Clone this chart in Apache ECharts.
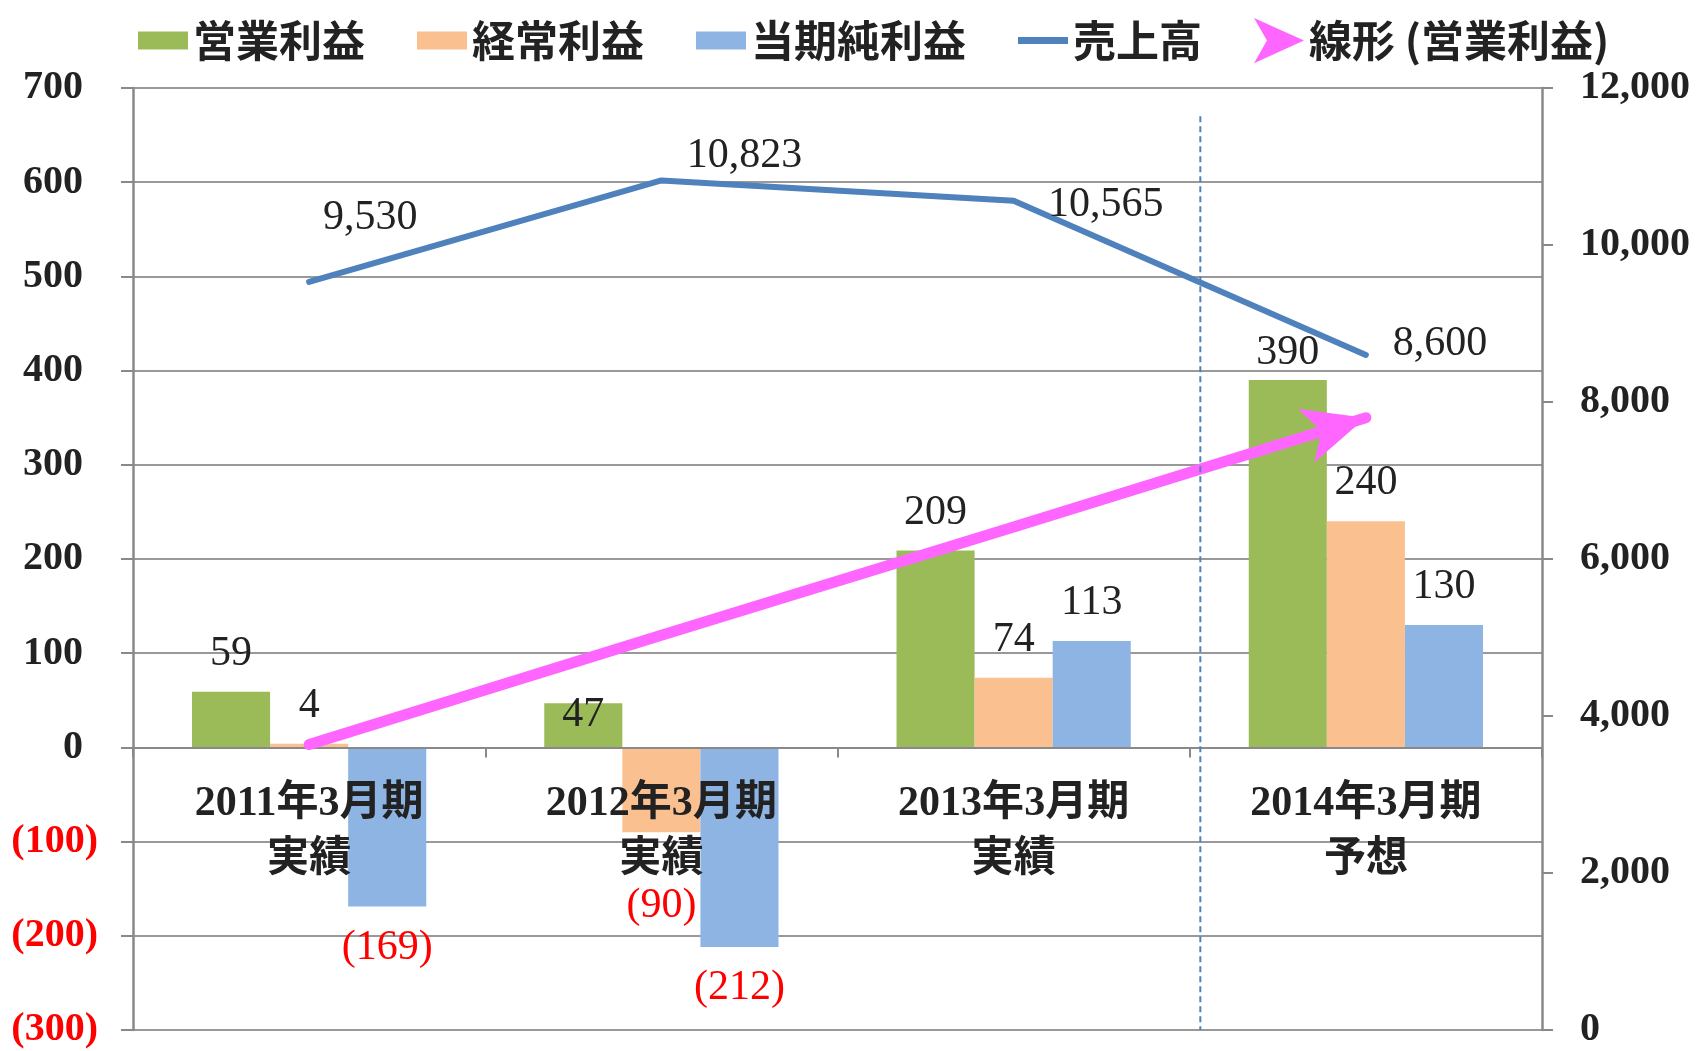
<!DOCTYPE html>
<html>
<head>
<meta charset="utf-8">
<title>業績推移</title>
<script src="https://cdn.jsdelivr.net/npm/echarts@6/dist/echarts.min.js"></script>
<style>
html, body { margin: 0; padding: 0; background: #fff; }
#resultChartContainer { width: 1700px; height: 1051px; }
</style>
</head>
<body>
<div id="resultChartContainer"></div>
<script>
// 表示データ
var categories = ['2011年3月期\n実績', '2012年3月期\n実績', '2013年3月期\n実績', '2014年3月期\n予想'];
var operatingProfit = [59, 47, 209, 390];      // 営業利益
var ordinaryProfit = [4, -90, 74, 240];        // 経常利益
var netProfit = [-169, -212, 113, 130];        // 当期純利益
var sales = [9530, 10823, 10565, 8600];        // 売上高
var trendValues = [3, 119, 234, 350];          // 線形 (営業利益)
var leftAxisRange = [-300, 700, 100];          // min, max, interval
var rightAxisRange = [0, 12000, 2000];
var dividerX = 3.03;                           // 実績/予想 の区切り
var dividerY = [670, -300];

var SERIF = '"Liberation Serif", "Noto Sans CJK JP", serif';
var GRAY = '#898989';
var GRID = { left: 133, right: 158, top: 88, bottom: 21 };

/**
 * 業績推移グラフ
 */
var p_1_1 = {
	init: function () {
		p_1_1.showChart();
	},
	/**
	 * 棒グラフ用のデータ (マイナスは下にラベル)
	 */
	barData: function (values, distances) {
		return values.map(function (v, i) {
			var item = { value: v, label: { position: v < 0 ? 'bottom' : 'top' } };
			if (distances && distances[i] != null) {
				item.label.distance = distances[i];
			}
			return item;
		});
	},
	barLabel: function () {
		return {
			show: true,
			distance: 17,
			formatter: function (p) {
				var v = p.value;
				return v < 0 ? '{n|(' + (-v) + ')}' : '{p|' + v + '}';
			},
			rich: {
				p: { fontFamily: SERIF, fontSize: 42, color: '#222' },
				n: { fontFamily: SERIF, fontSize: 42, color: '#ff0000' }
			}
		};
	},
	showChart: function () {
		var myChart = echarts.init(document.getElementById('resultChartContainer'));
		var salesLabelOffset = [[61, -64], [83, -24], [92, 4], [74, -11]];
		var arrowHead = 'path://M0,0 L62,28 L0,56 L16,28 Z';

		// カテゴリ軸を 0 の位置へ移動 (v6 では onZero でラベルが下端に残るため)
		var gridHeight = 1051 - GRID.top - GRID.bottom;
		var zeroOffset = -gridHeight * (0 - leftAxisRange[0]) / (leftAxisRange[1] - leftAxisRange[0]);

		var trendData = trendValues.map(function (v, i) {
			if (i === trendValues.length - 1) {
				return {
					value: v,
					symbol: arrowHead,
					symbolSize: [62, 56],
					symbolRotate: 17,
					symbolOffset: [-30, 9],
					symbolKeepAspect: false
				};
			}
			return { value: v };
		});

		var option = {
			animation: false,
			grid: { left: GRID.left, right: GRID.right, top: GRID.top, bottom: GRID.bottom, containLabel: false, outerBoundsMode: 'none' },
			legend: {
				left: 133,
				top: 13,
				itemWidth: 50,
				itemHeight: 56,
				itemGap: 52,
				selectedMode: false,
				textStyle: { fontFamily: '"Noto Sans CJK JP"', fontSize: 43, fontWeight: 'bold', color: '#222' },
				data: [
					{ name: '営業利益', icon: 'path://M0,0h50v18h-50z' },
					{ name: '経常利益', icon: 'path://M0,0h50v18h-50z' },
					{ name: '当期純利益', icon: 'path://M0,0h50v18h-50z' },
					{ name: '売上高', icon: 'path://M0,0h50v7h-50z' },
					{ name: '線形 (営業利益)', icon: arrowHead }
				]
			},
			xAxis: [
				{
					type: 'category',
					data: categories,
					offset: zeroOffset,
					z: 3,
					axisLine: { onZero: false, lineStyle: { color: GRAY, width: 2 } },
					axisTick: { show: true, length: 10, lineStyle: { color: GRAY, width: 2 } },
					axisLabel: {
						show: true,
						interval: 0,
						margin: 29,
						fontFamily: SERIF,
						fontSize: 42,
						fontWeight: 'bold',
						lineHeight: 56,
						color: '#222'
					}
				},
				{ type: 'value', min: 0, max: 4, show: false }
			],
			yAxis: [
				{
					type: 'value',
					min: leftAxisRange[0],
					max: leftAxisRange[1],
					interval: leftAxisRange[2],
					axisLine: { show: true, lineStyle: { color: GRAY, width: 2.5 } },
					axisTick: { show: true, length: 12, lineStyle: { color: GRAY, width: 2 } },
					splitLine: { show: true, lineStyle: { color: '#999', width: 2 } },
					axisLabel: {
						margin: 35,
						formatter: function (v) {
							return v < 0 ? '{n|(' + (-v) + ')}' : '{p|' + v + '}';
						},
						rich: {
							p: { fontFamily: SERIF, fontSize: 40, fontWeight: 'bold', color: '#222', padding: [0, 15, 0, 0] },
							n: { fontFamily: SERIF, fontSize: 40, fontWeight: 'bold', color: '#ff0000' }
						}
					}
				},
				{
					type: 'value',
					position: 'right',
					min: rightAxisRange[0],
					max: rightAxisRange[1],
					interval: rightAxisRange[2],
					axisLine: { show: true, lineStyle: { color: GRAY, width: 2.5 } },
					axisTick: { show: true, length: 11, lineStyle: { color: GRAY, width: 2 } },
					splitLine: { show: false },
					axisLabel: {
						margin: 38,
						fontFamily: SERIF,
						fontSize: 40,
						fontWeight: 'bold',
						color: '#222',
						formatter: function (v) {
							return String(v).replace(/\B(?=(\d{3})+(?!\d))/g, ',');
						}
					}
				}
			],
			series: [
				{
					name: '営業利益',
					type: 'bar',
					barGap: '0%',
					barCategoryGap: '33.5%',
					itemStyle: { color: '#9BBB59' },
					label: p_1_1.barLabel(),
					data: p_1_1.barData(operatingProfit, [null, -33, null, 6])
				},
				{
					name: '経常利益',
					type: 'bar',
					itemStyle: { color: '#FAC090' },
					label: p_1_1.barLabel(),
					data: p_1_1.barData(ordinaryProfit, [null, 53, null, null])
				},
				{
					name: '当期純利益',
					type: 'bar',
					itemStyle: { color: '#8DB4E2' },
					label: p_1_1.barLabel(),
					data: p_1_1.barData(netProfit, [20, 20, null, null])
				},
				{
					name: '売上高',
					type: 'line',
					yAxisIndex: 1,
					z: 4,
					symbol: 'circle',
					symbolSize: 2,
					itemStyle: { color: '#4F81BD' },
					lineStyle: { color: '#4F81BD', width: 6, cap: 'round' },
					label: { show: true },
					data: sales.map(function (v, i) {
						return {
							value: v,
							label: {
								position: 'inside',
								offset: salesLabelOffset[i],
								fontFamily: SERIF,
								fontSize: 42,
								color: '#222',
								formatter: function (p) {
									return String(p.value).replace(/\B(?=(\d{3})+(?!\d))/g, ',');
								}
							}
						};
					})
				},
				{
					name: '線形 (営業利益)',
					type: 'line',
					z: 3,
					symbol: 'none',
					itemStyle: { color: '#FF66FF' },
					lineStyle: { color: '#FF66FF', width: 11, cap: 'round' },
					data: trendData
				},
				{
					name: '区切り',
					type: 'line',
					xAxisIndex: 1,
					yAxisIndex: 0,
					silent: true,
					symbol: 'none',
					lineStyle: { color: '#4F81BD', width: 2, type: [6, 4] },
					data: [[dividerX, dividerY[0]], [dividerX, dividerY[1]]]
				}
			]
		};
		// グラフ表示
		myChart.setOption(option);
	}
};

p_1_1.init();
</script>
</body>
</html>
